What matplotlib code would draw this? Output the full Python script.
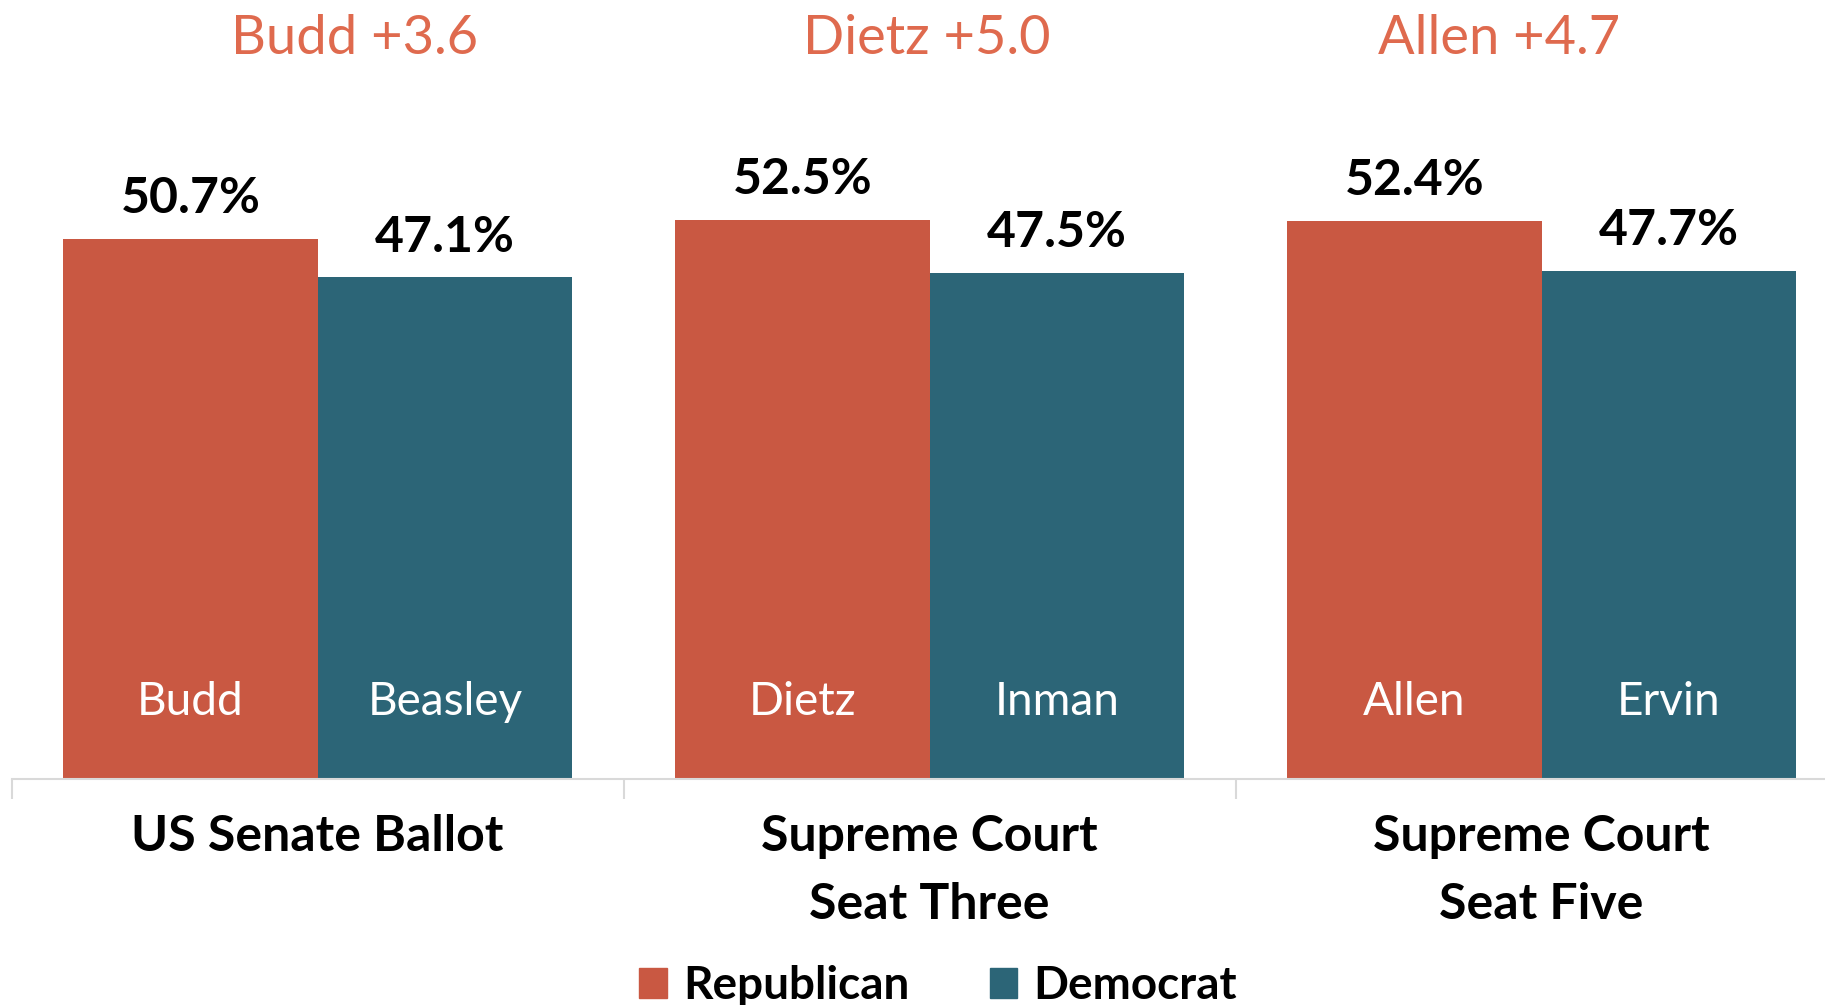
import matplotlib.pyplot as plt
from matplotlib.patches import Patch
import numpy as np

plt.rcParams['font.family'] = ['Lato', 'DejaVu Sans']

# data
categories = ["US Senate Ballot", "Supreme Court\nSeat Three", "Supreme Court\nSeat Five"]
rep_names = ["Budd", "Dietz", "Allen"]
dem_names = ["Beasley", "Inman", "Ervin"]
rep_values = [50.7, 52.5, 52.4]
dem_values = [47.1, 47.5, 47.7]
margins = ["Budd +3.6", "Dietz +5.0", "Allen +4.7"]

REP = "#C95842"
DEM = "#2C6577"
TITLE = "#DF6A4E"

fig = plt.figure(figsize=(18.25, 10.05), dpi=100)
ax = fig.add_axes([0.00637, 0.2245, 1.006, 0.7755])

x = np.arange(len(categories))
w = 0.416
rep_bars = ax.bar(x - w / 2, rep_values, w, color=REP)
dem_bars = ax.bar(x + w / 2, dem_values, w, color=DEM)

ax.set_xlim(-0.5, len(categories) - 0.5)
ax.set_ylim(0, 73.1)

# value labels above bars
for bars, vals in [(rep_bars, rep_values), (dem_bars, dem_values)]:
    for b, v in zip(bars, vals):
        ax.text(b.get_x() + b.get_width() / 2, v + 2.4, f"{v:.1f}%",
                ha='center', va='baseline', fontsize=36, fontweight='bold',
                color='black')

# candidate names inside bars
for bars, names in [(rep_bars, rep_names), (dem_bars, dem_names)]:
    for b, n in zip(bars, names):
        ax.text(b.get_x() + b.get_width() / 2, 6.0, n, ha='center',
                va='baseline', fontsize=33, color='white')

# margin headers
title_x = [0.061, 0.996, 1.93]
for tx, m in zip(title_x, margins):
    ax.text(tx, 68.0, m, ha='center', va='baseline', fontsize=39,
            color=TITLE)

for s in ['top', 'right', 'left']:
    ax.spines[s].set_visible(False)
ax.spines['bottom'].set_color('#D9D9D9')
ax.spines['bottom'].set_linewidth(1.5)
ax.set_yticks([])

ax.set_xticks(x)
ax.set_xticklabels(categories, fontsize=36, fontweight='bold',
                   linespacing=1.62)
ax.tick_params(axis='x', which='major', length=0, pad=25)
ax.set_xticks(np.arange(-0.5, len(categories)), minor=True)
ax.tick_params(axis='x', which='minor', length=14.4, width=1.5,
               color='#D9D9D9')

handles = [Patch(color=REP, label="Republican"),
           Patch(color=DEM, label="Democrat")]
fig.legend(handles=handles, loc='center', bbox_to_anchor=(0.514, 0.019),
           ncol=2, frameon=False, prop={'size': 33, 'weight': 'bold'},
           handlelength=0.6, handleheight=0.65, handletextpad=0.35,
           columnspacing=1.75)

fig.savefig("out.png", dpi=100)
